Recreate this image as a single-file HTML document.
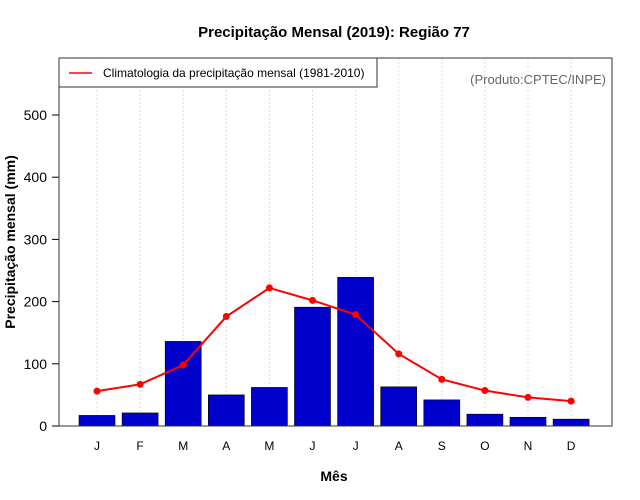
<!DOCTYPE html>
<html><head><meta charset="utf-8"><style>
body{margin:0;background:#fff}
svg{display:block;font-family:"Liberation Sans",sans-serif}
</style></head><body>
<svg id="c" width="640" height="500" xmlns="http://www.w3.org/2000/svg">
<text x="334" y="37" text-anchor="middle" font-size="15" font-weight="bold">Precipitação Mensal (2019): Região 77</text>
<text x="334" y="481" text-anchor="middle" font-size="14" font-weight="bold">Mês</text>
<text transform="translate(15,242) rotate(-90)" text-anchor="middle" font-size="14" font-weight="bold">Precipitação mensal (mm)</text>
<g id="grid"></g><g id="bars"></g><g id="line"></g><g id="axes"></g>
<rect x="59" y="58" width="553" height="368" fill="none" stroke="#333" stroke-width="1"/>
<g>
<rect x="59" y="58" width="318" height="29" fill="#fff" stroke="#333"/>
<line x1="69" y1="73" x2="92" y2="73" stroke="red" stroke-width="1.5"/>
<text x="103" y="77" font-size="12">Climatologia da precipitação mensal (1981-2010)</text>
</g>
<text x="606" y="84" text-anchor="end" font-size="13" fill="#666">(Produto:CPTEC/INPE)</text>
</svg>
<script>
const months=["J","F","M","A","M","J","J","A","S","O","N","D"];
const observed=[17,21,136,50,62,191,239,63,42,19,14,11];
const climatology=[56,67,98,176,222,202,179,116,75,57,46,40];
const yTicks=[0,100,200,300,400,500];
const NS="http://www.w3.org/2000/svg";
const x=i=>97+i*43.1;
const y=v=>426-v*0.622;
function mk(p,t,a){const e=document.createElementNS(NS,t);for(const k in a)e.setAttribute(k,a[k]);document.getElementById(p).appendChild(e);return e;}
months.forEach((m,i)=>{
 const g=mk("grid","line",{x1:x(i),x2:x(i),y1:58,y2:426,stroke:"#ddd","stroke-dasharray":"2,2"});
 
 
 const b=mk("bars","rect",{x:x(i)-18,y:y(observed[i]),width:36,height:y(0)-y(observed[i]),fill:"#0000cd",stroke:"#000","stroke-width":0.6});
 
 
 const t=mk("axes","text",{x:x(i),y:450,"text-anchor":"middle","font-size":12});
 t.textContent=m;
 
 
});
const pl=mk("line","polyline",{points:climatology.map((v,i)=>x(i)+","+y(v)).join(" "),fill:"none",stroke:"red","stroke-width":2});


climatology.forEach((v,i)=>{
 const c=mk("line","circle",{cx:x(i),cy:y(v),r:3.5,fill:"red"});
 
 
});
mk("axes","line",{x1:59,x2:59,y1:y(0),y2:y(500),stroke:"#000"});
yTicks.forEach(v=>{
 mk("axes","line",{x1:52,x2:59,y1:y(v),y2:y(v),stroke:"#000"});
 const t=mk("axes","text",{x:47,y:y(v)+5,"text-anchor":"end","font-size":14});
 t.textContent=v;
 
 
});
</script>
</body></html>
